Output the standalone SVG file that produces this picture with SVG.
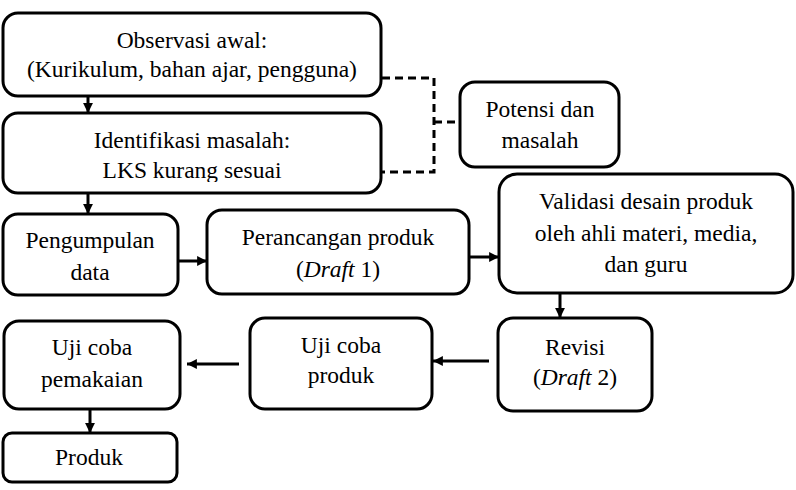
<svg xmlns="http://www.w3.org/2000/svg" width="796" height="490" viewBox="0 0 796 490">
<style>
.box{fill:#fff;stroke:#000;stroke-width:3}
.t{font-family:'Liberation Serif', 'DejaVu Serif', serif;font-size:23.5px;fill:#000;text-anchor:middle}
.c{fill:none;stroke:#000;stroke-width:3}
.d{fill:none;stroke:#000;stroke-width:3;stroke-dasharray:8 5}
</style>
<defs>
<marker id="ah" viewBox="0 0 10 10" refX="10" refY="5" markerWidth="3.3" markerHeight="3.3" orient="auto" markerUnits="strokeWidth">
<path d="M0,0 L10,5 L0,10 Z" fill="#000"/>
</marker>
<clipPath id="clip2"><rect x="0" y="100" width="400" height="82"/></clipPath>
</defs>
<rect width="796" height="490" fill="#fff"/>
<g id="connectors">
<path class="c" d="M88,96 V113" marker-end="url(#ah)"/>
<path class="c" d="M88,193 V214" marker-end="url(#ah)"/>
<path class="c" d="M178,261 H207" marker-end="url(#ah)"/>
<path class="c" d="M469,257 H499" marker-end="url(#ah)"/>
<path class="c" d="M560,293 V318" marker-end="url(#ah)"/>
<path class="c" d="M489,361 H433" marker-end="url(#ah)"/>
<path class="c" d="M239,364 H187" marker-end="url(#ah)"/>
<path class="c" d="M90,409 V433" marker-end="url(#ah)"/>
<path class="d" d="M382,78 H434 V172 H382"/>
<path class="d" d="M434,122 H460"/>
</g>
<g font-family="Liberation Serif, serif">
<g id="observasi">
<rect class="box" x="3" y="13" width="378" height="83" rx="15"/>
<text class="t" x="192" y="48">Observasi awal:</text>
<text class="t" x="192" y="77">(Kurikulum, bahan ajar, pengguna)</text>
</g>
<g id="identifikasi">
<rect class="box" x="3" y="113" width="378" height="80" rx="15"/>
<g clip-path="url(#clip2)">
<text class="t" x="192" y="148">Identifikasi masalah:</text>
<text class="t" x="192" y="178">LKS kurang sesuai</text>
</g>
</g>
<g id="potensi">
<rect class="box" x="460" y="82" width="159" height="85" rx="15"/>
<text class="t" x="540" y="117">Potensi dan</text>
<text class="t" x="540" y="148">masalah</text>
</g>
<g id="pengumpulan">
<rect class="box" x="3" y="214" width="175" height="81" rx="15"/>
<text class="t" x="90" y="248">Pengumpulan</text>
<text class="t" x="90" y="280">data</text>
</g>
<g id="perancangan">
<rect class="box" x="207" y="210" width="262" height="84" rx="15"/>
<text class="t" x="338" y="245">Perancangan produk</text>
<text class="t" x="338" y="277">(<tspan font-style="italic">Draft</tspan> 1)</text>
</g>
<g id="validasi">
<rect class="box" x="499" y="174" width="294" height="119" rx="18"/>
<text class="t" x="646" y="209">Validasi desain produk</text>
<text class="t" x="646" y="241">oleh ahli materi, media,</text>
<text class="t" x="646" y="272">dan guru</text>
</g>
<g id="revisi">
<rect class="box" x="498" y="318" width="154" height="93" rx="15"/>
<text class="t" x="575" y="355">Revisi</text>
<text class="t" x="575" y="385">(<tspan font-style="italic">Draft</tspan> 2)</text>
</g>
<g id="ujicoba-produk">
<rect class="box" x="250" y="318" width="182" height="91" rx="15"/>
<text class="t" x="341" y="353">Uji coba</text>
<text class="t" x="341" y="383">produk</text>
</g>
<g id="ujicoba-pemakaian">
<rect class="box" x="4" y="321" width="176" height="88" rx="15"/>
<text class="t" x="92" y="355">Uji coba</text>
<text class="t" x="92" y="387">pemakaian</text>
</g>
<g id="produk">
<rect class="box" x="3" y="433" width="174" height="49" rx="9"/>
<text class="t" x="89" y="465">Produk</text>
</g>
</g>
</svg>
